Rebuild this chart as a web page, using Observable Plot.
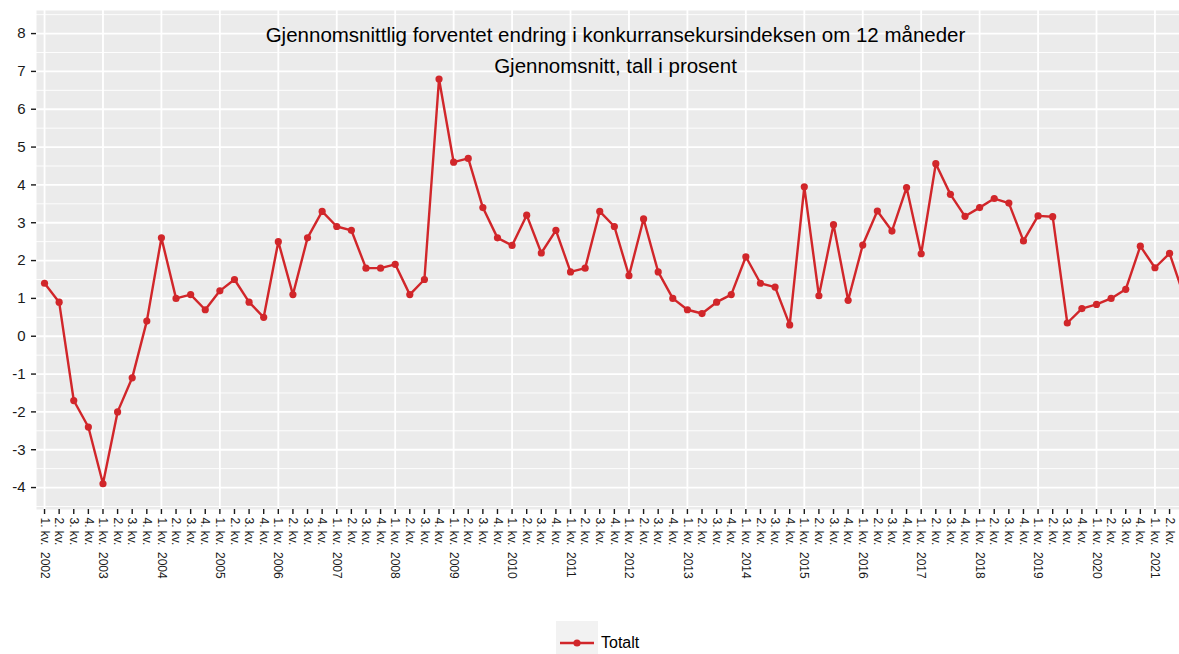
<!DOCTYPE html>
<html>
<head>
<meta charset="utf-8">
<script src="https://cdn.jsdelivr.net/npm/d3@7"></script>
<script src="https://cdn.jsdelivr.net/npm/@observablehq/plot@0.6"></script>
<style>
  html, body { margin: 0; padding: 0; background: #ffffff; overflow: hidden; }
  body { width: 1179px; height: 654px; font-family: "Liberation Sans", Arial, sans-serif; }
  #legend { display: flex; align-items: center; margin-top: 9px; margin-left: 556px; height: 44px; }
  #legend .key { width: 42px; height: 44px; background: #f2f2f2; display: flex; align-items: center; justify-content: center; }
  #legend .lab { margin-left: 3px; font-size: 16px; color: #000; }
</style>
</head>
<body>
<div id="chart"></div>
<div id="legend"></div>
<script>
// ---- data ----
const years = [2002, 2003, 2004, 2005, 2006, 2007, 2008, 2009, 2010, 2011,
               2012, 2013, 2014, 2015, 2016, 2017, 2018, 2019, 2020, 2021];
const quarterNames = ["1. kv.", "2. kv.", "3. kv.", "4. kv."];
const seriesName = "Totalt";
const values = [
  1.4, 0.9, -1.7, -2.4,      // 2002
  -3.9, -2.0, -1.1, 0.4,     // 2003
  2.6, 1.0, 1.1, 0.7,        // 2004
  1.2, 1.5, 0.9, 0.5,        // 2005
  2.5, 1.1, 2.6, 3.3,        // 2006
  2.9, 2.8, 1.8, 1.8,        // 2007
  1.9, 1.1, 1.5, 6.8,        // 2008
  4.6, 4.7, 3.4, 2.6,        // 2009
  2.4, 3.2, 2.2, 2.8,        // 2010
  1.7, 1.8, 3.3, 2.9,        // 2011
  1.6, 3.1, 1.7, 1.0,        // 2012
  0.7, 0.6, 0.9, 1.1,        // 2013
  2.1, 1.4, 1.3, 0.3,        // 2014
  3.95, 1.07, 2.95, 0.95,    // 2015
  2.41, 3.31, 2.78, 3.93,    // 2016
  2.18, 4.56, 3.75, 3.17,    // 2017
  3.40, 3.64, 3.52, 2.52,    // 2018
  3.18, 3.16, 0.35, 0.73,    // 2019
  0.84, 1.00, 1.24, 2.38,    // 2020
  1.81, 2.19, 1.05           // 2021
];
const yTicks = [-4, -3, -2, -1, 0, 1, 2, 3, 4, 5, 6, 7, 8];
const titleLines = [
  "Gjennomsnittlig forventet endring i konkurransekursindeksen om 12 måneder",
  "Gjennomsnitt, tall i prosent"
];

// ---- derived ----
const labels = [];
years.forEach(y => quarterNames.forEach((q, k) => {
  labels.push(k === 0 ? `${q}\u00a0\u00a0${y}` : q);
}));
const lastIdx = years.indexOf(2021) * 4 + 1; // 2. kv. 2021 (last labelled quarter)
const tickIdx = d3.range(lastIdx + 1);
const yearIdx = tickIdx.filter(i => i % 4 === 0);
const data = values.map((v, i) => ({i, v}));
const minorY = yTicks.slice(0, -1).map(t => t + 0.5).concat([-4.5, 8.5]);

const red = "#d1262a";
const font = "Liberation Sans, Arial, sans-serif";

const chart = Plot.plot({
  width: 1179,
  height: 612,
  marginLeft: 36,
  marginRight: 0,
  marginTop: 10,
  marginBottom: 103,
  style: {fontFamily: font, background: "#ffffff", overflow: "hidden"},
  x: {type: "linear", domain: [-0.55, 77.68], axis: null},
  y: {domain: [-4.58, 8.61], axis: null},
  marks: [
    Plot.frame({fill: "#ebebeb", stroke: null}),
    Plot.gridY(minorY, {stroke: "#ffffff", strokeOpacity: 1, strokeWidth: 0.9}),
    Plot.gridY(yTicks, {stroke: "#ffffff", strokeOpacity: 1, strokeWidth: 1.8}),
    Plot.gridX(yearIdx, {stroke: "#ffffff", strokeOpacity: 1, strokeWidth: 1.8}),
    Plot.axisY(yTicks, {tickSize: 5, tickPadding: 6, fontSize: 15, color: "#1a1a1a",
      strokeWidth: 1.4, label: null, tickFormat: d => String(d)}),
    Plot.axisX(tickIdx, {
      tickFormat: i => labels[i], tickRotate: 90, tickSize: 5, tickPadding: 3,
      fontSize: 12, color: "#1a1a1a", strokeWidth: 1.4, label: null
    }),
    Plot.line(data, {x: "i", y: "v", stroke: red, strokeWidth: 2.4, clip: true}),
    Plot.dot(data, {x: "i", y: "v", fill: red, stroke: null, r: 3.6, clip: true}),
    Plot.text([titleLines[0]], {frameAnchor: "top", lineAnchor: "middle", dx: 7.5, dy: 25,
      fontSize: 20.5, fill: "#000"}),
    Plot.text([titleLines[1]], {frameAnchor: "top", lineAnchor: "middle", dx: 7.5, dy: 56,
      fontSize: 20.5, fill: "#000"})
  ]
});
document.getElementById("chart").appendChild(chart);

// legend
const lg = document.getElementById("legend");
const key = document.createElement("div");
key.className = "key";
key.innerHTML = `<svg width="36" height="10"><line x1="1" x2="35" y1="5" y2="5" stroke="${red}" stroke-width="2.4"/><circle cx="18" cy="5" r="3.6" fill="${red}"/></svg>`;
const lab = document.createElement("span");
lab.className = "lab";
lab.textContent = seriesName;
lg.appendChild(key);
lg.appendChild(lab);
</script>
</body>
</html>
